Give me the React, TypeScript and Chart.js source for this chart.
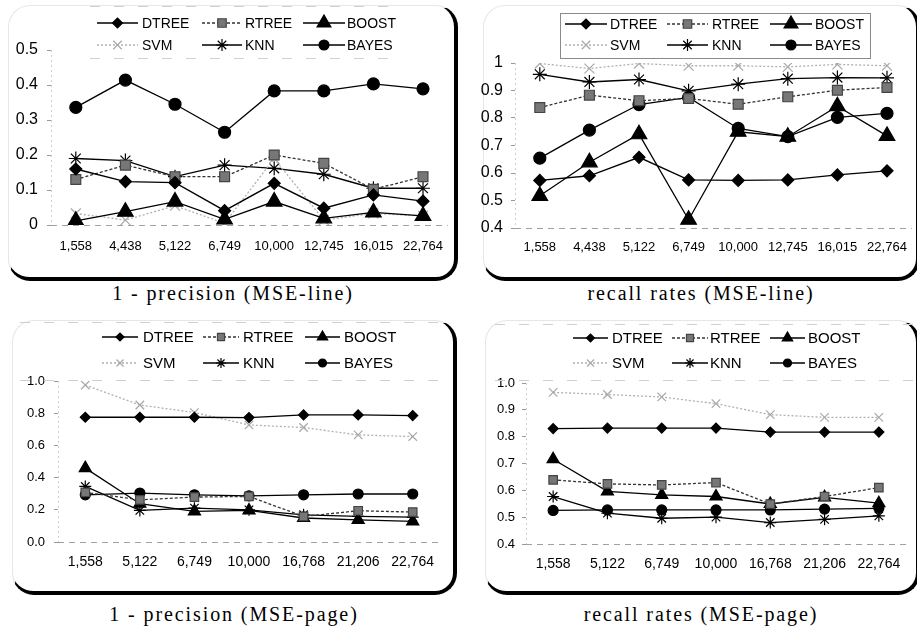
import React, { useEffect, useRef } from 'react';
import { Chart, registerables } from 'chart.js';
import { drawPoint } from 'chart.js/helpers';

Chart.register(...registerables);

// ---------- data ----------
const SERIES = ['DTREE', 'RTREE', 'BOOST', 'SVM', 'KNN', 'BAYES'];

const lineSizes = ['1,558', '4,438', '5,122', '6,749', '10,000', '12,745', '16,015', '22,764'];
const pageSizes = ['1,558', '5,122', '6,749', '10,000', '16,768', '21,206', '22,764'];

// 1 - precision (MSE-line)
const precLineDTREE = [0.16, 0.124, 0.121, 0.041, 0.119, 0.048, 0.086, 0.068];
const precLineRTREE = [0.13, 0.171, 0.138, 0.138, 0.2, 0.176, 0.102, 0.138];
const precLineBOOST = [0.012, 0.038, 0.067, 0.016, 0.067, 0.019, 0.036, 0.026];
const precLineSVM = [0.033, 0.014, 0.055, 0.005, 0.19, 0.014, 0.033, 0.026];
const precLineKNN = [0.19, 0.184, 0.138, 0.171, 0.162, 0.145, 0.105, 0.105];
const precLineBAYES = [0.336, 0.414, 0.345, 0.265, 0.383, 0.383, 0.403, 0.389];

// recall rates (MSE-line)
const recLineDTREE = [0.573, 0.59, 0.657, 0.575, 0.573, 0.575, 0.593, 0.608];
const recLineRTREE = [0.838, 0.883, 0.863, 0.871, 0.85, 0.877, 0.901, 0.911];
const recLineBOOST = [0.517, 0.639, 0.741, 0.43, 0.75, 0.732, 0.843, 0.735];
const recLineSVM = [0.998, 0.98, 0.998, 0.99, 0.99, 0.986, 0.995, 0.99];
const recLineKNN = [0.959, 0.931, 0.94, 0.899, 0.923, 0.943, 0.947, 0.946];
const recLineBAYES = [0.654, 0.756, 0.849, 0.875, 0.762, 0.732, 0.802, 0.817];

// 1 - precision (MSE-page)
const precPageDTREE = [0.775, 0.775, 0.775, 0.773, 0.789, 0.789, 0.785];
const precPageRTREE = [0.308, 0.262, 0.279, 0.283, 0.159, 0.194, 0.186];
const precPageBOOST = [0.459, 0.238, 0.19, 0.196, 0.149, 0.138, 0.128];
const precPageSVM = [0.975, 0.851, 0.804, 0.727, 0.711, 0.665, 0.655];
const precPageKNN = [0.345, 0.196, 0.21, 0.2, 0.169, 0.159, 0.155];
const precPageBAYES = [0.293, 0.304, 0.293, 0.287, 0.293, 0.298, 0.298];

// recall rates (MSE-page)
const recPageDTREE = [0.83, 0.832, 0.832, 0.832, 0.817, 0.817, 0.817];
const recPageRTREE = [0.639, 0.624, 0.62, 0.629, 0.549, 0.577, 0.61];
const recPageBOOST = [0.716, 0.596, 0.583, 0.577, 0.549, 0.574, 0.552];
const recPageSVM = [0.965, 0.957, 0.948, 0.923, 0.882, 0.872, 0.872];
const recPageKNN = [0.577, 0.515, 0.496, 0.5, 0.48, 0.492, 0.505];
const recPageBAYES = [0.525, 0.527, 0.527, 0.527, 0.527, 0.53, 0.533];

// y tick values and labels
const yVals1 = [0, 0.1, 0.2, 0.3, 0.4, 0.5];
const yLabels1 = ['0', '0.1', '0.2', '0.3', '0.4', '0.5'];
const yVals2 = [0.4, 0.5, 0.6, 0.7, 0.8, 0.9, 1];
const yLabels2 = ['0.4', '0.5', '0.6', '0.7', '0.8', '0.9', '1'];
const yVals3 = [0, 0.2, 0.4, 0.6, 0.8, 1.0];
const yLabels3 = ['0.0', '0.2', '0.4', '0.6', '0.8', '1.0'];
const yVals4 = [0.4, 0.5, 0.6, 0.7, 0.8, 0.9, 1.0];
const yLabels4 = ['0.4', '0.5', '0.6', '0.7', '0.8', '0.9', '1.0'];

const captions = [
  '1 - precision (MSE-line)',
  'recall rates (MSE-line)',
  '1 - precision (MSE-page)',
  'recall rates (MSE-page)',
];

// ---------- styles ----------
const FONT = "'Liberation Sans', Arial, sans-serif";

function seriesStyle(name: string, big: boolean) {
  switch (name) {
    case 'DTREE':
      return { color: '#000', fill: '#000', pc: '#000', ps: 'rectRot', r: big ? 6 : 5, dash: [] as number[] };
    case 'RTREE':
      return { color: '#333', fill: '#777', pc: '#444', ps: 'rect', r: big ? 7 : 6, dash: [3, 2] };
    case 'BOOST':
      return { color: '#000', fill: '#000', pc: '#000', ps: 'triangle', r: big ? 9 : 7, dash: [] as number[] };
    case 'SVM':
      return { color: '#b0b0b0', fill: '#b0b0b0', pc: '#a8a8a8', ps: 'crossRot', r: big ? 7 : 6, dash: [2, 2] };
    case 'KNN':
      return { color: '#000', fill: '#000', pc: '#000', ps: 'star', r: big ? 7 : 6, dash: [] as number[] };
    default:
      return { color: '#000', fill: '#000', pc: '#000', ps: 'circle', r: big ? 6 : 5, dash: [] as number[] };
  }
}

type Panel = {
  cats: string[];
  data: number[][];
  yVals: number[];
  yLabels: string[];
  canvas: { x: number; y: number; w: number; h: number };
  plot: { l: number; r: number; t: number; b: number };
  yFont: number;
  xFont: number;
  yTickPad: number;
  xTickPad: number;
  big: boolean;
  legend: {
    rows: number[];
    cols: { s0: number; s1: number; tx: number }[];
    font: number;
    box: { x0: number; x1: number; y0: number; y1: number; solid: boolean };
  };
};

const panels: Panel[] = [
  {
    cats: lineSizes,
    data: [precLineDTREE, precLineRTREE, precLineBOOST, precLineSVM, precLineKNN, precLineBAYES],
    yVals: yVals1,
    yLabels: yLabels1,
    canvas: { x: 8, y: 5, w: 450, h: 270 },
    plot: { l: 51, r: 450, t: 50, b: 225 },
    yFont: 16,
    xFont: 13,
    yTickPad: 9,
    xTickPad: 14,
    big: true,
    legend: {
      rows: [23, 45],
      cols: [
        { s0: 97, s1: 138, tx: 142 },
        { s0: 202, s1: 242, tx: 245 },
        { s0: 303, s1: 345, tx: 347 },
      ],
      font: 14,
      box: { x0: 90, x1: 402, y0: 6, y1: 58, solid: false },
    },
  },
  {
    cats: lineSizes,
    data: [recLineDTREE, recLineRTREE, recLineBOOST, recLineSVM, recLineKNN, recLineBAYES],
    yVals: yVals2,
    yLabels: yLabels2,
    canvas: { x: 466, y: 5, w: 456, h: 270 },
    plot: { l: 515, r: 920, t: 63, b: 228 },
    yFont: 16,
    xFont: 13,
    yTickPad: 8,
    xTickPad: 12,
    big: true,
    legend: {
      rows: [24, 45],
      cols: [
        { s0: 565, s1: 607, tx: 610 },
        { s0: 667, s1: 708, tx: 712 },
        { s0: 770, s1: 812, tx: 815 },
      ],
      font: 14,
      box: { x0: 560, x1: 870, y0: 13, y1: 58, solid: true },
    },
  },
  {
    cats: pageSizes,
    data: [precPageDTREE, precPageRTREE, precPageBOOST, precPageSVM, precPageKNN, precPageBAYES],
    yVals: yVals3,
    yLabels: yLabels3,
    canvas: { x: 12, y: 320, w: 446, h: 270 },
    plot: { l: 58, r: 440, t: 381, b: 542 },
    yFont: 13,
    xFont: 14,
    yTickPad: 9,
    xTickPad: 12,
    big: false,
    legend: {
      rows: [337, 363],
      cols: [
        { s0: 102, s1: 138, tx: 143 },
        { s0: 203, s1: 239, tx: 243 },
        { s0: 305, s1: 340, tx: 344 },
      ],
      font: 15,
      box: { x0: 20, x1: 440, y0: 322, y1: 380, solid: false },
    },
  },
  {
    cats: pageSizes,
    data: [recPageDTREE, recPageRTREE, recPageBOOST, recPageSVM, recPageKNN, recPageBAYES],
    yVals: yVals4,
    yLabels: yLabels4,
    canvas: { x: 470, y: 320, w: 452, h: 270 },
    plot: { l: 526, r: 906, t: 383, b: 544 },
    yFont: 13,
    xFont: 14,
    yTickPad: 7,
    xTickPad: 12,
    big: false,
    legend: {
      rows: [338, 363],
      cols: [
        { s0: 573, s1: 608, tx: 612 },
        { s0: 672, s1: 708, tx: 710 },
        { s0: 770, s1: 805, tx: 808 },
      ],
      font: 15,
      box: { x0: 495, x1: 915, y0: 324, y1: 380, solid: false },
    },
  },
];

const boxes = [
  { l: 8, t: 5, r: 458, b: 281 },
  { l: 483, t: 5, r: 920, b: 281 },
  { l: 12, t: 320, r: 457, b: 595 },
  { l: 485, t: 320, r: 920, b: 595 },
];

const captionPos = [
  { x: 233, y: 293 },
  { x: 701, y: 293 },
  { x: 234, y: 614 },
  { x: 701, y: 614 },
];

function ChartPanel({ p }: { p: Panel }) {
  const ref = useRef<HTMLCanvasElement | null>(null);
  useEffect(() => {
    const canvas = ref.current;
    if (!canvas) return;
    const ox = p.canvas.x;
    const oy = p.canvas.y;
    const yMin = p.yVals[0];
    const yMax = p.yVals[p.yVals.length - 1];

    const decor = {
      id: 'decor',
      beforeDatasetsDraw(chart: any) {
        const ctx = chart.ctx;
        const a = chart.chartArea;
        const ys = chart.scales.y;
        ctx.save();
        ctx.strokeStyle = '#a0a0a0';
        ctx.lineWidth = 1;
        ctx.setLineDash([6, 5]);
        const yb = Math.round(ys.getPixelForValue(yMin)) + 0.5;
        ctx.beginPath();
        ctx.moveTo(a.left, yb);
        ctx.lineTo(a.right, yb);
        ctx.stroke();
        ctx.strokeStyle = '#cfcfcf';
        ctx.setLineDash([2, 3]);
        ctx.beginPath();
        ctx.moveTo(a.left + 0.5, a.top);
        ctx.lineTo(a.left + 0.5, a.bottom);
        ctx.stroke();
        ctx.restore();
      },
      afterDraw(chart: any) {
        const ctx = chart.ctx;
        const lg = p.legend;
        ctx.save();
        ctx.lineWidth = 1;
        if (lg.box.solid) {
          ctx.strokeStyle = '#8a8a8a';
          ctx.setLineDash([]);
          ctx.strokeRect(lg.box.x0 - ox + 0.5, lg.box.y0 - oy + 0.5, lg.box.x1 - lg.box.x0, lg.box.y1 - lg.box.y0);
        } else {
          ctx.strokeStyle = '#d0d0d0';
          ctx.setLineDash([10, 14]);
          ctx.beginPath();
          ctx.moveTo(lg.box.x0 - ox, lg.box.y0 - oy + 0.5);
          ctx.lineTo(lg.box.x1 - ox, lg.box.y0 - oy + 0.5);
          ctx.moveTo(lg.box.x0 - ox, lg.box.y1 - oy + 0.5);
          ctx.lineTo(lg.box.x1 - ox, lg.box.y1 - oy + 0.5);
          ctx.stroke();
        }
        chart.data.datasets.forEach((ds: any, i: number) => {
          const col = lg.cols[i % 3];
          const y = lg.rows[Math.floor(i / 3)] - oy;
          const x0 = col.s0 - ox;
          const x1 = col.s1 - ox;
          ctx.setLineDash(ds.borderDash || []);
          ctx.strokeStyle = ds.borderColor;
          ctx.lineWidth = 1.3;
          ctx.beginPath();
          ctx.moveTo(x0, y);
          ctx.lineTo(x1, y);
          ctx.stroke();
          ctx.setLineDash([]);
          ctx.fillStyle = ds.pointBackgroundColor;
          ctx.strokeStyle = ds.pointBorderColor;
          ctx.lineWidth = 1.2;
          drawPoint(
            ctx,
            { pointStyle: ds.pointStyle, radius: Math.max(ds.pointRadius - 1, 4), rotation: 0, borderWidth: 1.2 } as any,
            (x0 + x1) / 2,
            y
          );
          ctx.fillStyle = '#000';
          ctx.font = `${lg.font}px ${FONT}`;
          ctx.textAlign = 'left';
          ctx.textBaseline = 'middle';
          ctx.fillText(ds.label, col.tx - ox, y + 1);
        });
        ctx.restore();
      },
    };

    const chart = new Chart(canvas, {
      type: 'line',
      data: {
        labels: p.cats,
        datasets: SERIES.map((name, i) => {
          const st = seriesStyle(name, p.big);
          return {
            label: name,
            data: p.data[i],
            borderColor: st.color,
            backgroundColor: st.fill,
            borderWidth: 1.3,
            borderDash: st.dash,
            pointStyle: st.ps as any,
            pointRadius: st.r,
            pointBackgroundColor: st.fill,
            pointBorderColor: st.pc,
            pointBorderWidth: 1.2,
            tension: 0,
            fill: false,
          };
        }),
      },
      options: {
        animation: false,
        responsive: false,
        maintainAspectRatio: false,
        events: [],
        layout: {
          padding: {
            top: p.plot.t - oy,
            right: p.canvas.x + p.canvas.w - p.plot.r,
            left: 0,
            bottom: 0,
          },
        },
        plugins: {
          legend: { display: false },
          tooltip: { enabled: false },
          title: { display: false },
        },
        scales: {
          x: {
            type: 'category',
            offset: true,
            grid: { display: false, drawTicks: false },
            border: { display: false },
            ticks: {
              color: '#000',
              font: { family: FONT, size: p.xFont },
              padding: p.xTickPad,
              maxRotation: 0,
              autoSkip: false,
            },
            afterFit: (s: any) => {
              s.height = oy + p.canvas.h - p.plot.b;
            },
          },
          y: {
            type: 'linear',
            min: yMin,
            max: yMax,
            afterBuildTicks: (s: any) => {
              s.ticks = p.yVals.map((v) => ({ value: v }));
            },
            grid: {
              color: 'transparent',
              drawTicks: true,
              tickLength: 4,
              tickColor: '#9a9a9a',
            },
            border: { display: false },
            ticks: {
              color: '#000',
              font: { family: FONT, size: p.yFont },
              padding: p.yTickPad,
              callback: (_v: any, i: number) => p.yLabels[i],
            },
            afterFit: (s: any) => {
              s.width = p.plot.l - ox;
            },
          },
        },
      },
      plugins: [decor],
    } as any);
    return () => chart.destroy();
  }, [p]);

  return (
    <canvas
      ref={ref}
      width={p.canvas.w}
      height={p.canvas.h}
      style={{
        position: 'absolute',
        left: p.canvas.x,
        top: p.canvas.y,
        width: p.canvas.w,
        height: p.canvas.h,
      }}
    />
  );
}

export default function App() {
  return (
    <div
      style={{
        position: 'fixed',
        left: 0,
        top: 0,
        width: 917,
        height: 630,
        overflow: 'hidden',
        background: '#fff',
      }}
    >
      {boxes.map((b, i) => (
        <div
          key={'b' + i}
          style={{
            position: 'absolute',
            left: b.l,
            top: b.t,
            width: b.r - b.l,
            height: b.b - b.t,
            boxSizing: 'border-box',
            borderTop: '1px solid #e6e6e6',
            borderLeft: '1px solid #e6e6e6',
            borderRight: '4px solid #000',
            borderBottom: '4px solid #000',
            borderRadius: 22,
          }}
        />
      ))}
      {panels.map((p, i) => (
        <ChartPanel key={'c' + i} p={p} />
      ))}
      {captions.map((c, i) => (
        <div
          key={'t' + i}
          style={{
            position: 'absolute',
            left: captionPos[i].x,
            top: captionPos[i].y - 12,
            transform: 'translateX(-50%)',
            whiteSpace: 'nowrap',
            fontFamily: "'Liberation Serif', 'DejaVu Serif', serif",
            fontSize: 20,
            lineHeight: '24px',
            letterSpacing: '1.9px',
            color: '#000',
          }}
        >
          {c}
        </div>
      ))}
    </div>
  );
}
